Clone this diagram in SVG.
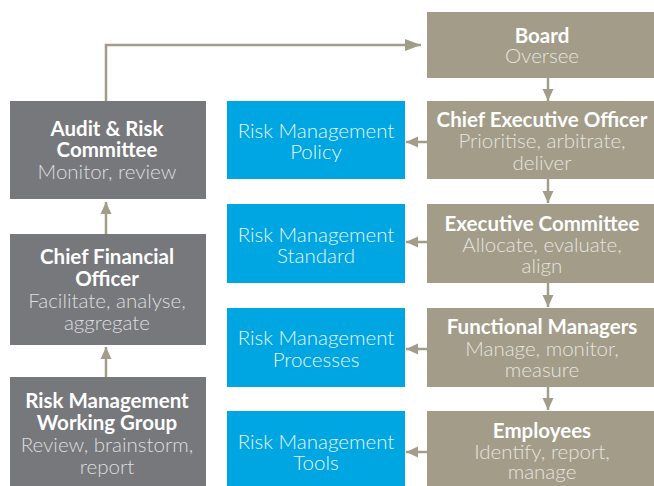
<svg xmlns="http://www.w3.org/2000/svg" width="654" height="486" viewBox="0 0 654 486">
<style>
text{font-family:Lato,"Open Sans","Liberation Sans",sans-serif;font-size:20.5px;text-anchor:middle}
.t{font-weight:700;fill:#ffffff}
.s{font-weight:300;fill:#e6e4df}
.sg{font-weight:300;fill:#dedede}
.b{font-weight:300;fill:#e4f4fb}
.grey{fill:#77787c}
.taupe{fill:#a29c89}
.blue{fill:#00a6e1}
.c{stroke:#a29c89;stroke-width:2.5;fill:none}
</style>
<defs>
<marker id="ah" markerWidth="12" markerHeight="12" refX="12" refY="6" orient="auto" markerUnits="userSpaceOnUse"><path d="M0,0.5 L12,6 L0,11.5 z" fill="#a29c89"/></marker>
<marker id="ah2" markerWidth="16" markerHeight="13" refX="16" refY="6.5" orient="auto" markerUnits="userSpaceOnUse"><path d="M0,0.5 L16,6.5 L0,12.5 z" fill="#a29c89"/></marker>
</defs>
<g id="connectors">
<path class="c" d="M106,101 V45 H421" marker-end="url(#ah2)"/>
<line class="c" x1="548" y1="77" x2="548" y2="101" marker-end="url(#ah)"/>
<line class="c" x1="548" y1="179" x2="548" y2="203" marker-end="url(#ah)"/>
<line class="c" x1="548" y1="283" x2="548" y2="307" marker-end="url(#ah)"/>
<line class="c" x1="548" y1="387" x2="548" y2="410" marker-end="url(#ah)"/>
<line class="c" x1="427" y1="142" x2="406" y2="142" marker-end="url(#ah)"/>
<line class="c" x1="427" y1="242" x2="406" y2="242" marker-end="url(#ah)"/>
<line class="c" x1="427" y1="349" x2="406" y2="349" marker-end="url(#ah)"/>
<line class="c" x1="427" y1="452" x2="406" y2="452" marker-end="url(#ah)"/>
<line class="c" x1="106" y1="234" x2="106" y2="202" marker-end="url(#ah)"/>
<line class="c" x1="106" y1="377" x2="106" y2="347" marker-end="url(#ah)"/>
</g>
<g id="board">
<rect class="taupe" x="427" y="12" width="240" height="66"/>
<text class="t" x="542" y="43">Board</text>
<text class="s" x="542" y="63">Oversee</text>
</g>
<g id="ceo">
<rect class="taupe" x="427" y="101" width="240" height="78"/>
<text class="t" x="542" y="127">Chief Executive Officer</text>
<text class="s" x="542" y="148">Prioritise, arbitrate,</text>
<text class="s" x="542" y="170">deliver</text>
</g>
<g id="exec-committee">
<rect class="taupe" x="427" y="204" width="240" height="79"/>
<text class="t" x="542" y="231">Executive Committee</text>
<text class="s" x="542" y="252">Allocate, evaluate,</text>
<text class="s" x="542" y="273">align</text>
</g>
<g id="functional-managers">
<rect class="taupe" x="427" y="308" width="240" height="79"/>
<text class="t" x="542" y="334">Functional Managers</text>
<text class="s" x="542" y="356">Manage, monitor,</text>
<text class="s" x="542" y="377">measure</text>
</g>
<g id="employees">
<rect class="taupe" x="427" y="411" width="240" height="80"/>
<text class="t" x="542" y="438">Employees</text>
<text class="s" x="542" y="459">Identify, report,</text>
<text class="s" x="542" y="479">manage</text>
</g>
<g id="rm-policy">
<rect class="blue" x="227" y="101" width="178" height="78"/>
<text class="b" x="316" y="138">Risk Management</text>
<text class="b" x="316" y="159">Policy</text>
</g>
<g id="rm-standard">
<rect class="blue" x="227" y="204" width="178" height="79"/>
<text class="b" x="316" y="242">Risk Management</text>
<text class="b" x="316" y="263">Standard</text>
</g>
<g id="rm-processes">
<rect class="blue" x="227" y="308" width="178" height="79"/>
<text class="b" x="316" y="345">Risk Management</text>
<text class="b" x="316" y="367">Processes</text>
</g>
<g id="rm-tools">
<rect class="blue" x="227" y="411" width="178" height="80"/>
<text class="b" x="316" y="449">Risk Management</text>
<text class="b" x="316" y="470">Tools</text>
</g>
<g id="audit-risk">
<rect class="grey" x="10" y="101" width="196" height="98"/>
<text class="t" x="107" y="136">Audit &amp; Risk</text>
<text class="t" x="107" y="157">Committee</text>
<text class="sg" x="107" y="179">Monitor, review</text>
</g>
<g id="cfo">
<rect class="grey" x="10" y="234" width="196" height="111"/>
<text class="t" x="107" y="264">Chief Financial</text>
<text class="t" x="107" y="286">Officer</text>
<text class="sg" x="107" y="308">Facilitate, analyse,</text>
<text class="sg" x="107" y="330">aggregate</text>
</g>
<g id="rm-working-group">
<rect class="grey" x="10" y="377" width="196" height="114"/>
<text class="t" x="107" y="408">Risk Management</text>
<text class="t" x="107" y="430">Working Group</text>
<text class="sg" x="107" y="452">Review, brainstorm,</text>
<text class="sg" x="107" y="474">report</text>
</g>
</svg>
